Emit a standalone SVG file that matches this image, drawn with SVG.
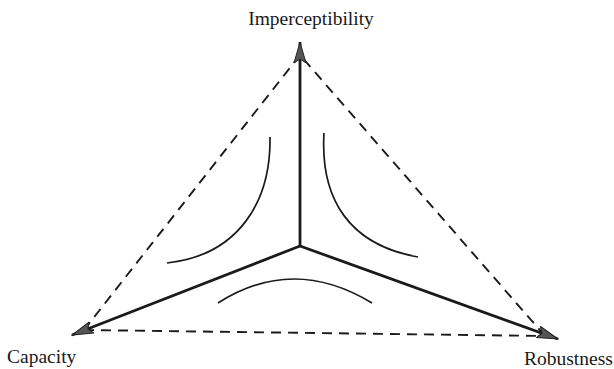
<svg xmlns="http://www.w3.org/2000/svg" width="614" height="369" viewBox="0 0 614 369">
<style>
.axis{stroke:#1a1a1a;stroke-width:2.8;fill:none}
.dash{stroke:#1a1a1a;stroke-width:1.9;fill:none;stroke-dasharray:10 7}
.curve{stroke:#1a1a1a;stroke-width:1.7;fill:none}
.lbl{font-family:"Liberation Serif","Times New Roman",serif;font-size:19.5px;fill:#1a1a1a}
</style>
<defs>
<marker id="ah" viewBox="0 0 22 14" refX="21" refY="7" markerWidth="22" markerHeight="14" markerUnits="userSpaceOnUse" orient="auto">
<path d="M0,1 L21,7 L0,13 L4,7 Z" fill="#555" stroke="#222" stroke-width="1"/>
</marker>
</defs>
<rect width="614" height="369" fill="#fff"/>
<g id="connectors">
<line class="dash" x1="300" y1="55" x2="84" y2="330"/>
<line class="dash" x1="84" y1="330" x2="545" y2="336"/>
<line class="dash" x1="545" y1="336" x2="300" y2="55"/>
<line class="axis" x1="300" y1="246" x2="300" y2="42" marker-end="url(#ah)"/>
<line class="axis" x1="300" y1="246" x2="72" y2="335" marker-end="url(#ah)"/>
<line class="axis" x1="300" y1="246" x2="558" y2="339" marker-end="url(#ah)"/>
<path class="curve" d="M270,137 C271,200 240,255 167,263"/>
<path class="curve" d="M324,133 C320,200 350,245 418,257"/>
<path class="curve" d="M218,303 Q293,255 372,303"/>
</g>
<g id="imperceptibility"><text class="lbl" x="311" y="25" text-anchor="middle">Imperceptibility</text></g>
<g id="capacity"><text class="lbl" x="7" y="363">Capacity</text></g>
<g id="robustness"><text class="lbl" x="524" y="365">Robustness</text></g>
</svg>
